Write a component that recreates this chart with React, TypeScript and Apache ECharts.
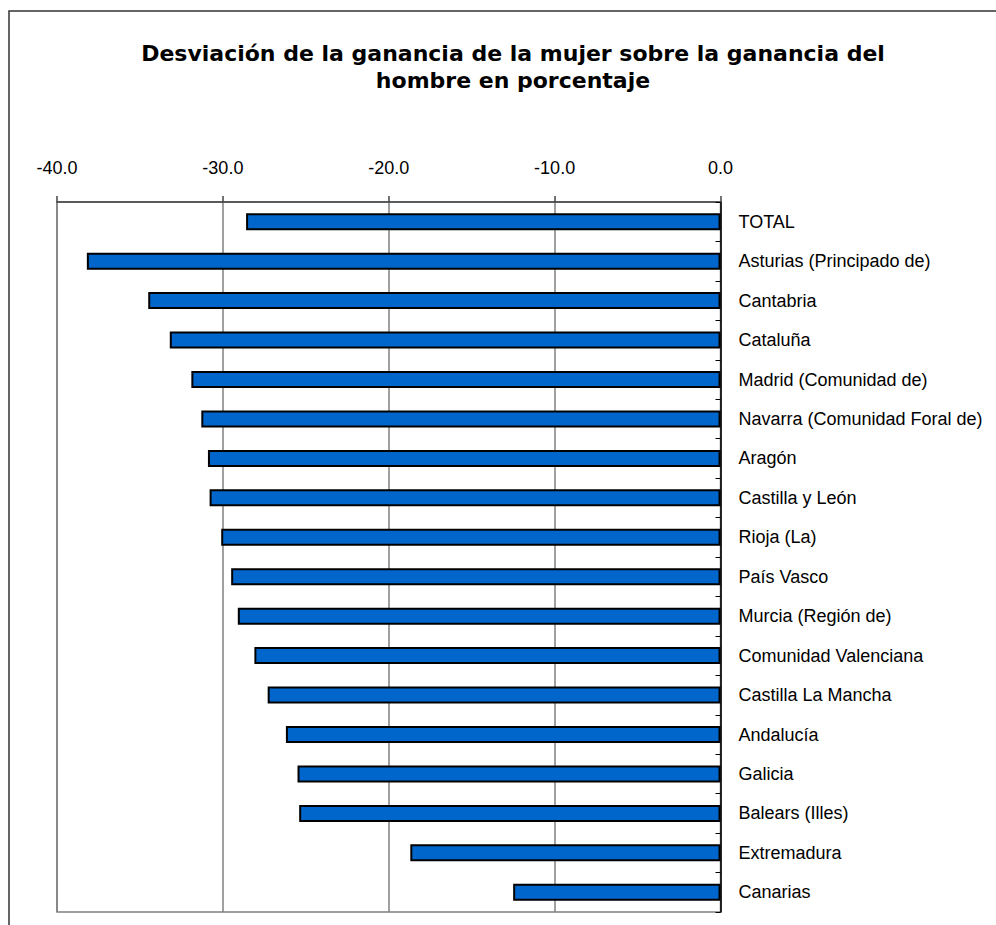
import React, { useEffect, useRef } from "react";
import * as echarts from "echarts";

const titleText = "Desviación de la ganancia de la mujer sobre la ganancia del\nhombre en porcentaje";

const categories = [
  "TOTAL",
  "Asturias (Principado de)",
  "Cantabria",
  "Cataluña",
  "Madrid (Comunidad de)",
  "Navarra (Comunidad Foral de)",
  "Aragón",
  "Castilla y León",
  "Rioja (La)",
  "País Vasco",
  "Murcia (Región de)",
  "Comunidad Valenciana",
  "Castilla La Mancha",
  "Andalucía",
  "Galicia",
  "Balears (Illes)",
  "Extremadura",
  "Canarias",
];

const values = [
  -28.6, -38.2, -34.5, -33.2, -31.9, -31.3, -30.9, -30.8, -30.1, -29.5, -29.1,
  -28.1, -27.3, -26.2, -25.5, -25.4, -18.7, -12.5,
];

const xMin = -40;
const xMax = 0;
const xInterval = 10;

export default function App() {
  const ref = useRef<HTMLDivElement>(null);

  useEffect(() => {
    document.body.style.margin = "0";
    if (!ref.current) return;
    const chart = echarts.init(ref.current, undefined, { renderer: "svg" });
    const font = "Arial, 'Liberation Sans', Helvetica, sans-serif";
    chart.setOption({
      animation: false,
      backgroundColor: "#ffffff",
      title: {
        text: titleText,
        left: 508,
        top: 35,
        textAlign: "center",
        textStyle: {
          fontFamily: "'DejaVu Sans', Verdana, sans-serif",
          fontSize: 22,
          fontWeight: "bold",
          color: "#000",
          lineHeight: 27,
        },
      },
      graphic: [
        {
          type: "rect",
          shape: { x: 9, y: 11, width: 1100, height: 1100 },
          style: { fill: "none", stroke: "#333", lineWidth: 1.5 },
          silent: true,
          z: 0,
        },
      ],
      grid: {
        left: 57,
        right: 275.5,
        top: 202,
        bottom: 13,
        show: true,
        borderColor: "#808080",
        borderWidth: 1.5,
        containLabel: false,
      },
      xAxis: {
        type: "value",
        position: "top",
        min: xMin,
        max: xMax,
        interval: xInterval,
        axisLine: { show: true, lineStyle: { color: "#444", width: 1.5 } },
        axisTick: { show: true, inside: false, length: 6, lineStyle: { color: "#444", width: 1.5 } },
        splitLine: { show: true, lineStyle: { color: "#808080", width: 1.5 } },
        axisLabel: {
          fontFamily: font,
          fontSize: 18,
          color: "#000",
          margin: 25,
          formatter: (v: number) => v.toFixed(1),
        },
      },
      yAxis: {
        type: "category",
        position: "right",
        inverse: true,
        data: categories,
        axisLine: { show: true, onZero: false, lineStyle: { color: "#000", width: 1.5 } },
        axisTick: { show: true, inside: true, length: 5, lineStyle: { color: "#000", width: 1 } },
        splitLine: { show: false },
        axisLabel: {
          fontFamily: font,
          fontSize: 18,
          color: "#000",
          margin: 18,
        },
      },
      series: [
        {
          type: "bar",
          data: values,
          barWidth: 17,
          itemStyle: { color: "#0066cc", borderColor: "#000", borderWidth: 2 },
          z: 3,
        },
      ],
    });
    return () => chart.dispose();
  }, []);

  return <div ref={ref} style={{ width: 996, height: 925 }} />;
}
